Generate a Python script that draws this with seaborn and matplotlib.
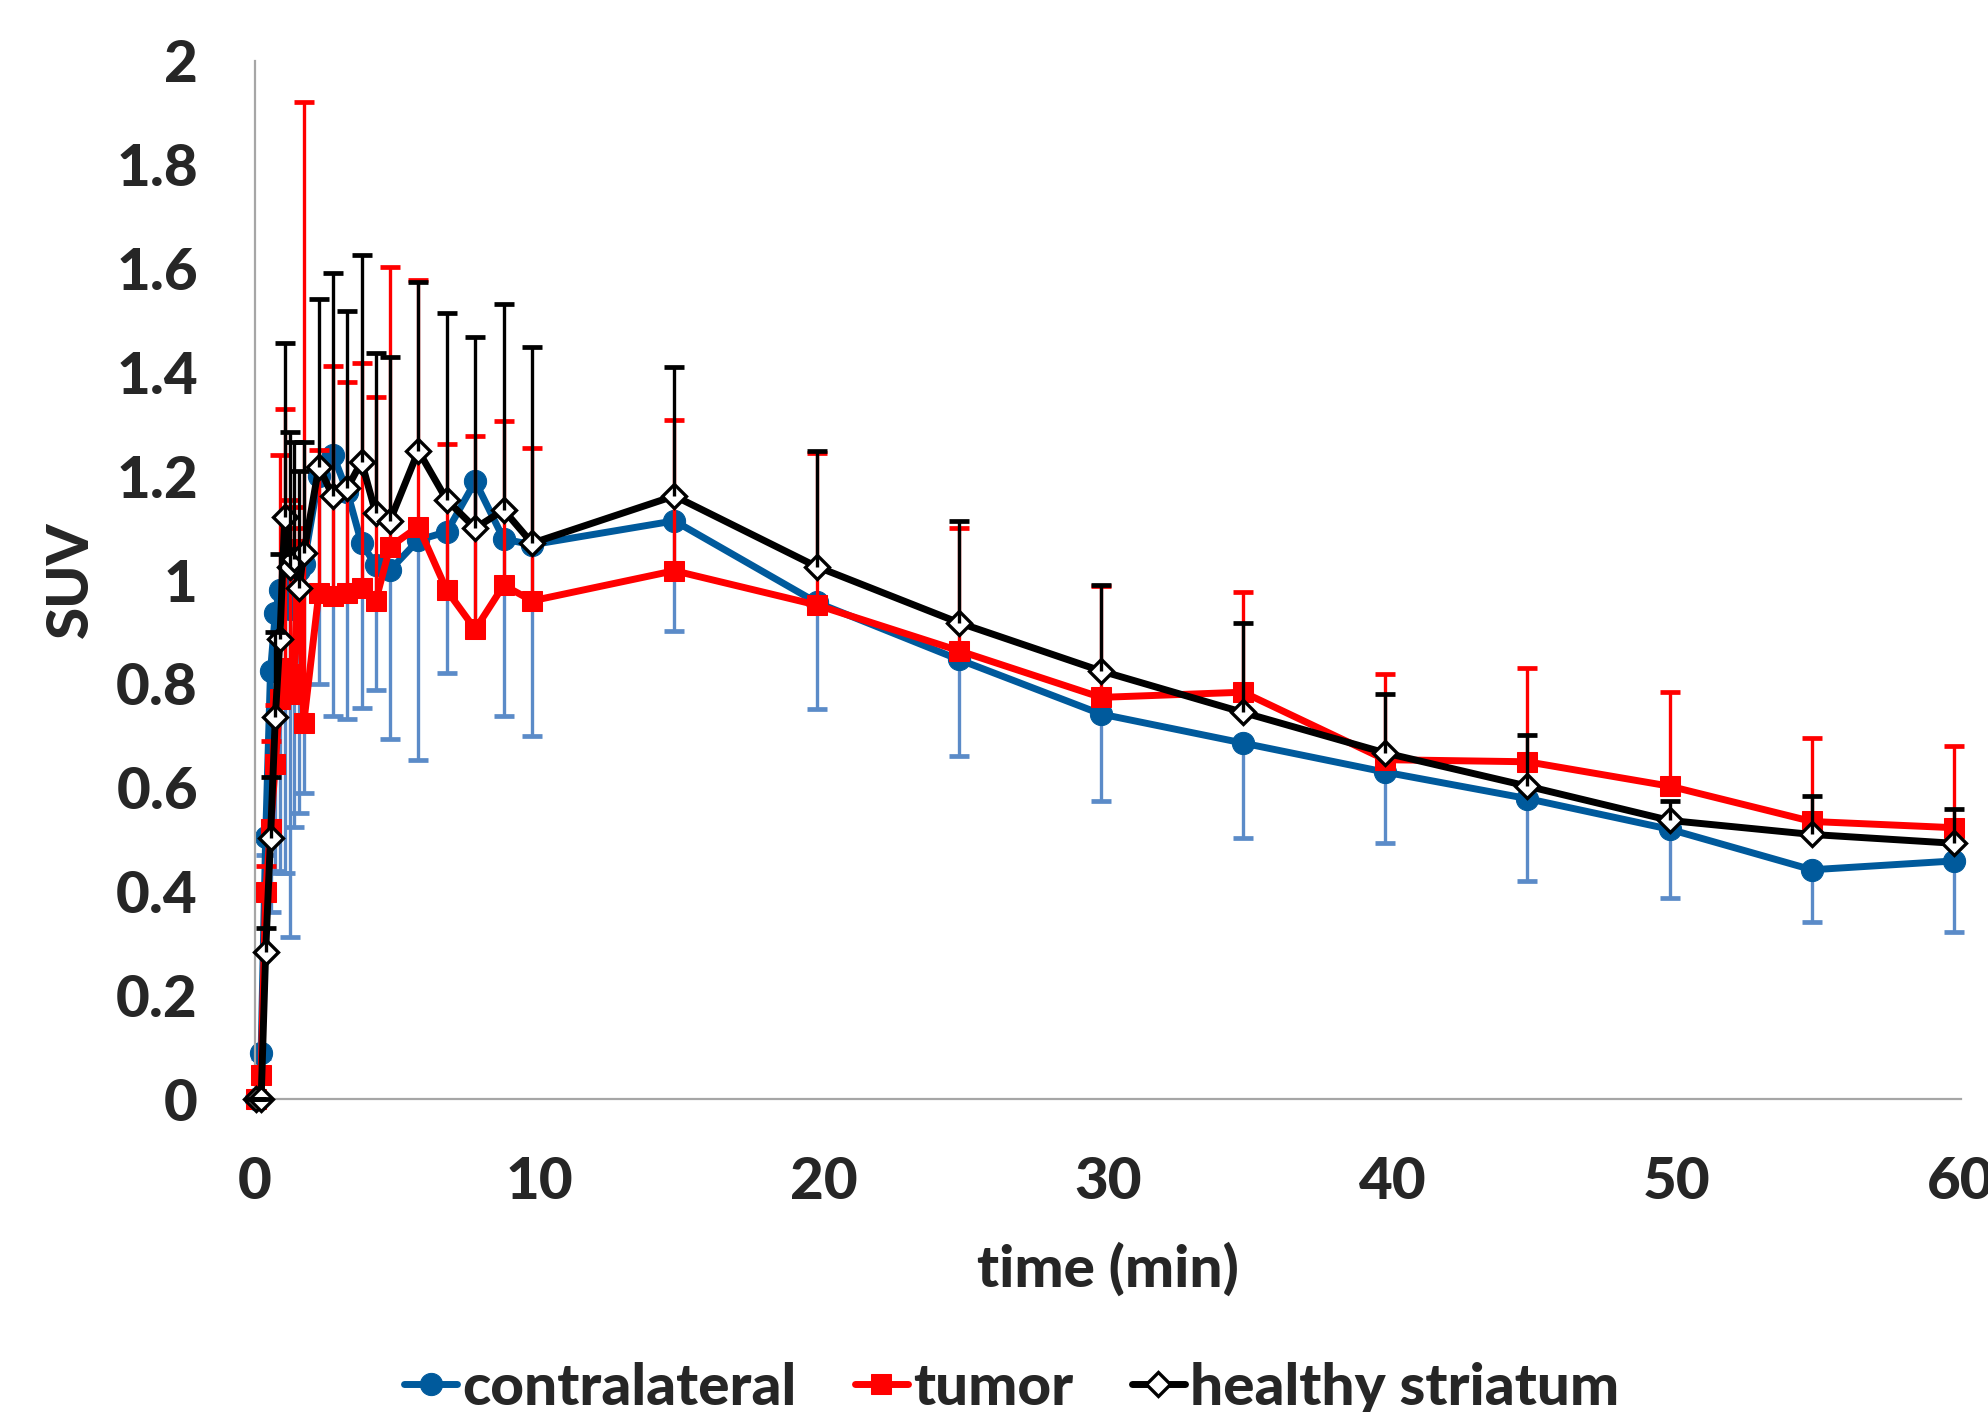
import numpy as np
import pandas as pd
import seaborn as sns
import matplotlib.pyplot as plt

# frame times (min)
time = [0.05, 0.22, 0.38, 0.55, 0.72, 0.88, 1.05, 1.22, 1.38, 1.55, 1.72,
        2.25, 2.75, 3.25, 3.75, 4.25, 4.75, 5.75, 6.75, 7.75, 8.75, 9.75,
        14.75, 19.75, 24.75, 29.75, 34.75, 39.75, 44.75, 49.75, 54.75, 59.75]

contra = [0.0, 0.09, 0.506, 0.824, 0.937, 0.981, 0.96, 0.945, 0.99, 1.02, 1.03,
          1.2, 1.241, 1.17, 1.071, 1.029, 1.019, 1.077, 1.093, 1.19, 1.079, 1.068,
          1.114, 0.957, 0.847, 0.742, 0.686, 0.630, 0.579, 0.520, 0.442, 0.459]
contra_low = [0.0, 0.08, 0.47, 0.36, 0.44, 0.435, 0.435, 0.312, 0.525, 0.551, 0.589,
              0.799, 0.738, 0.733, 0.753, 0.788, 0.693, 0.653, 0.821, 0.92, 0.739, 0.699,
              0.901, 0.752, 0.662, 0.574, 0.503, 0.493, 0.42, 0.388, 0.342, 0.322]

tumor = [0.0, 0.047, 0.40, 0.52, 0.645, 0.77, 0.83, 0.78, 0.82, 1.06, 0.725,
         0.975, 0.97, 0.975, 0.985, 0.96, 1.064, 1.103, 0.98, 0.905, 0.99, 0.96,
         1.018, 0.952, 0.864, 0.774, 0.784, 0.654, 0.650, 0.603, 0.535, 0.523]
tumor_high = [0.0, 0.06, 0.45, 0.69, 0.76, 1.24, 1.33, 1.155, 1.14, 1.10, 1.92,
              1.251, 1.413, 1.382, 1.419, 1.352, 1.602, 1.578, 1.262, 1.278, 1.307, 1.255,
              1.309, 1.245, 1.10, 0.989, 0.977, 0.82, 0.83, 0.784, 0.696, 0.681]

striatum = [0.0, 0.0, 0.284, 0.503, 0.737, 0.886, 1.122, 1.026, 1.04, 0.984, 1.052,
            1.218, 1.161, 1.177, 1.228, 1.129, 1.114, 1.249, 1.154, 1.100, 1.135, 1.071,
            1.162, 1.026, 0.918, 0.825, 0.745, 0.667, 0.603, 0.537, 0.51, 0.493]
striatum_high = [0.0, 0.0, 0.33, 0.62, 0.90, 1.05, 1.456, 1.285, 1.265, 1.21, 1.265,
                 1.541, 1.591, 1.518, 1.627, 1.437, 1.430, 1.575, 1.515, 1.468, 1.531, 1.448,
                 1.411, 1.248, 1.114, 0.991, 0.918, 0.781, 0.701, 0.575, 0.584, 0.559]

xticks = [0, 10, 20, 30, 40, 50, 60]
yticks = [0, 0.2, 0.4, 0.6, 0.8, 1, 1.2, 1.4, 1.6, 1.8, 2]
ytick_labels = ['0', '0.2', '0.4', '0.6', '0.8', '1', '1.2', '1.4', '1.6', '1.8', '2']

sns.set_style("white")
plt.rcParams['font.family'] = ['Lato', 'DejaVu Sans']
plt.rcParams['font.weight'] = 'black'

df = pd.DataFrame({'time': time, 'contra': contra, 'tumor': tumor, 'striatum': striatum})

fig = plt.figure(figsize=(19.88, 14.12), dpi=100)
ax = fig.add_axes([0.1282, 0.2215, 0.8583, 0.7354])

blue = '#005a9c'
blue_bar = '#5b8bc8'
red = '#ff0000'

# error bars (one-sided, like the original)
def bars(t, v, end, color, z):
    ax.vlines(t, v, end, color=color, lw=2.4, zorder=z, clip_on=False)
    ax.plot(t, end, linestyle='none', marker='_', ms=15, mew=3.4, color=color,
            zorder=z, clip_on=False)

bars(time, contra, contra_low, blue_bar, 1)
sns.lineplot(data=df, x='time', y='contra', ax=ax, color=blue, lw=5, marker='o',
             ms=16, mec=blue, zorder=2, clip_on=False, label='contralateral')
bars(time, tumor, tumor_high, red, 3)
sns.lineplot(data=df, x='time', y='tumor', ax=ax, color=red, lw=5, marker='s',
             ms=15, mec=red, zorder=4, clip_on=False, label='tumor')
sns.lineplot(data=df, x='time', y='striatum', ax=ax, color='black', lw=5, marker='D',
             ms=12, mfc='white', mec='black', mew=2.4, zorder=5, clip_on=False,
             label='healthy striatum')
bars(time, striatum, striatum_high, 'black', 6)

ax.set_xlim(0, 60)
ax.set_ylim(0, 2)
ax.set_xticks(xticks)
ax.set_yticks(yticks)
ax.set_yticklabels(ytick_labels)
for s in ['top', 'right']:
    ax.spines[s].set_visible(False)
for s in ['left', 'bottom']:
    ax.spines[s].set_color('#a6a6a6')
    ax.spines[s].set_linewidth(1.6)
ax.tick_params(axis='both', direction='out', length=15, width=1.6, color='#a6a6a6',
               labelsize=42)
ax.tick_params(axis='x', pad=26)
ax.tick_params(axis='y', pad=26)
for lab in ax.get_xticklabels() + ax.get_yticklabels():
    lab.set_fontweight('black')

ax.set_xlabel('time (min)', fontsize=42, fontweight='black', labelpad=24)
ax.set_ylabel('SUV', fontsize=42, fontweight='black', labelpad=13)

ax.legend(loc='upper center', bbox_to_anchor=(0.509, 0.052), bbox_transform=fig.transFigure,
          ncol=3, frameon=False, fontsize=42, handlelength=0.9, handletextpad=0.1,
          columnspacing=1.0, borderaxespad=0)

fig.savefig('out.png', dpi=100)
